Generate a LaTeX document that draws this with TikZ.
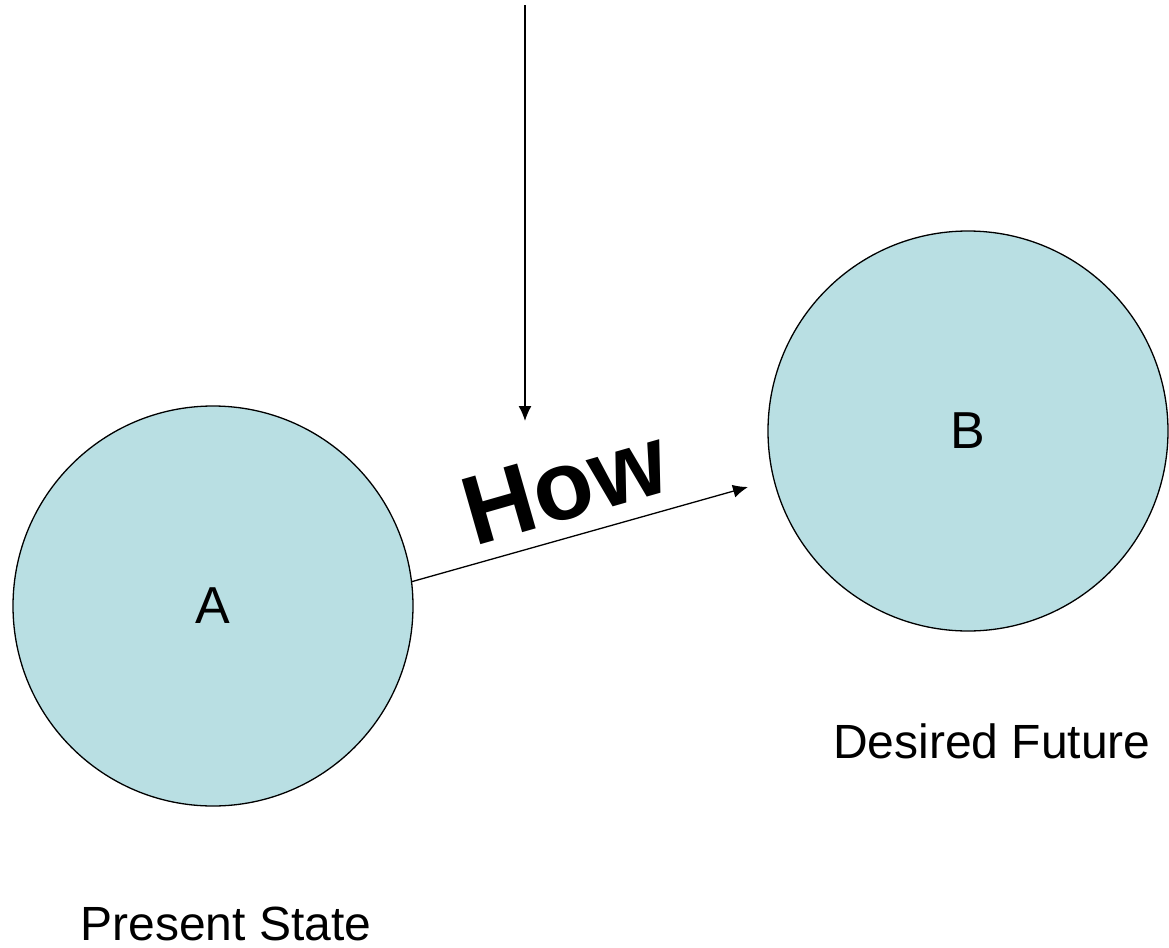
\documentclass[tikz,border=0pt]{standalone}
\usepackage{fontspec}
\setmainfont{Liberation Sans}
\usetikzlibrary{arrows.meta}
\usetikzlibrary{positioning}
\definecolor{statefill}{RGB}{185,223,227}

\begin{document}
\begin{tikzpicture}[x=0.5pt,y=-0.5pt]
\tikzstyle{state} = [circle, draw=black, line width=0.65pt, fill=statefill,
minimum size=200pt, inner sep=0pt, font=\fontsize{26}{30}\selectfont]
\tikzstyle{caption} = [font=\fontsize{24}{28}\selectfont, inner sep=0pt]
\tikzstyle{line} = [draw, line width=0.65pt, ->, >={Latex[length=7.5pt,width=6.5pt]}]
\useasboundingbox (0,0) rectangle (1169,948);
% circles
\node [state] (present) at (213,606) {A};
\node [state] (future) at (968,431) {B};
% labels
\node [caption] (presentlabel) at (226,924) {Present State};
\node [caption] (futurelabel) at (992,741) {Desired Future};
\node [font=\fontsize{49}{56}\selectfont\bfseries, rotate=16, inner sep=0pt] (how) at (565,486) {How};
% arrows
\coordinate (howend) at (748,487);
\coordinate (droptop) at (525,5);
\coordinate (dropend) at (525,421);
\draw [line] (present.7) -- (howend);
\draw [line] (droptop) -- (dropend);
\end{tikzpicture}
\end{document}
